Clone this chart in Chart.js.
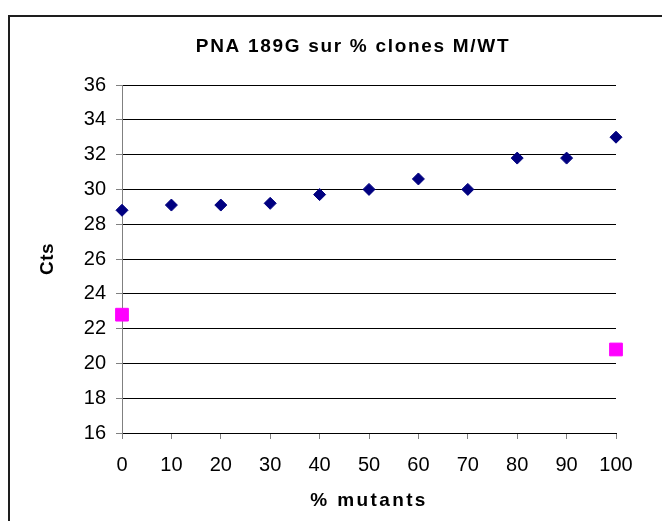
<!DOCTYPE html>
<html>
<head>
<meta charset="utf-8">
<title>PNA 189G sur % clones M/WT</title>
<script src="https://cdn.jsdelivr.net/npm/chart.js@4/dist/chart.umd.min.js"></script>
<style>
  html, body { margin: 0; padding: 0; background: #ffffff; }
  #wrap { width: 662px; height: 521px; position: relative; }
</style>
</head>
<body>
<div id="wrap"><canvas id="chart" width="662" height="521"></canvas></div>
<script>
// % of mutant clones in the M/WT mix
const percentMutants = [0, 10, 20, 30, 40, 50, 60, 70, 80, 90, 100];
// Ct values with the PNA 189G clamp
const ctsPNA = [28.8, 29.1, 29.1, 29.2, 29.7, 30.0, 30.6, 30.0, 31.8, 31.8, 33.0];
// Reference points at 0 % and 100 % mutants
const controlPercent = [0, 100];
const controlCts = [22.8, 20.8];
// Axis ranges and steps
const xRange = [0, 100];
const xStep = 10;
const yRange = [16, 36];
const yStep = 2;

const FONT = "'Liberation Sans', Arial, Helvetica, sans-serif";

const toPoints = (xs, ys) => xs.map((x, i) => ({ x: x, y: ys[i] }));

// Outer frame of the chart object (left and top edges)
const framePlugin = {
  id: 'frame',
  beforeDraw(chart) {
    const ctx = chart.ctx;
    ctx.save();
    ctx.fillStyle = '#ffffff';
    ctx.fillRect(0, 0, chart.width, chart.height);
    ctx.strokeStyle = '#1e1e1e';
    ctx.lineWidth = 2;
    ctx.beginPath();
    ctx.moveTo(9, chart.height);
    ctx.lineTo(9, 16);
    ctx.lineTo(chart.width, 16);
    ctx.stroke();
    ctx.restore();
  }
};

// Wider letter spacing for the bold titles
function withSpacing(obj, fnName, spacing) {
  if (!obj || obj['__spaced_' + fnName]) return;
  const orig = obj[fnName];
  obj[fnName] = function () {
    const ctx = this.ctx;
    const prev = ctx.letterSpacing;
    ctx.letterSpacing = spacing;
    try { return orig.apply(this, arguments); }
    finally { ctx.letterSpacing = prev; }
  };
  obj['__spaced_' + fnName] = true;
}
const spacingPlugin = {
  id: 'titleSpacing',
  afterLayout(chart) {
    withSpacing(chart.titleBlock, 'draw', '1.7px');
    withSpacing(chart.scales.x, 'drawTitle', '2.4px');
    withSpacing(chart.scales.y, 'drawTitle', '0.5px');
  }
};

new Chart(document.getElementById('chart'), {
  type: 'scatter',
  data: {
    datasets: [
      {
        label: 'PNA 189G',
        data: toPoints(percentMutants, ctsPNA),
        pointStyle: 'rectRot',
        pointRadius: 6,
        pointHoverRadius: 6,
        borderWidth: 1,
        backgroundColor: '#000080',
        borderColor: '#000080',
        clip: false
      },
      {
        label: 'Contrôles',
        data: toPoints(controlPercent, controlCts),
        pointStyle: 'rect',
        pointRadius: 9,
        pointHoverRadius: 9,
        borderWidth: 1,
        backgroundColor: '#ff00ff',
        borderColor: '#ff00ff',
        clip: false
      }
    ]
  },
  options: {
    responsive: false,
    animation: false,
    events: [],
    layout: { padding: { left: 44, right: 0, top: 0, bottom: 0 } },
    plugins: {
      legend: { display: false },
      tooltip: { enabled: false },
      title: {
        display: true,
        text: 'PNA 189G sur % clones M/WT',
        color: '#000000',
        font: { family: FONT, size: 19, weight: 'bold', lineHeight: 1.2 },
        padding: { top: 35.4, bottom: 26.8 }
      }
    },
    scales: {
      x: {
        type: 'linear',
        position: 'bottom',
        min: xRange[0],
        max: xRange[1],
        afterFit(scale) { scale.height = 88; },
        ticks: {
          stepSize: xStep,
          color: '#000000',
          padding: 14,
          maxRotation: 0,
          font: { family: FONT, size: 20 }
        },
        grid: {
          drawOnChartArea: false,
          drawTicks: true,
          tickLength: 6,
          tickColor: '#808080'
        },
        border: { display: true, color: '#000000', width: 1 },
        title: {
          display: true,
          text: '% mutants',
          color: '#000000',
          font: { family: FONT, size: 19, weight: 'bold', lineHeight: 1.2 },
          padding: { top: 0, bottom: 8.5 }
        }
      },
      y: {
        type: 'linear',
        position: 'left',
        min: yRange[0],
        max: yRange[1],
        afterFit(scale) { scale.width = 78; },
        ticks: {
          stepSize: yStep,
          color: '#000000',
          padding: 10,
          font: { family: FONT, size: 20 }
        },
        grid: {
          color: '#000000',
          lineWidth: 1,
          drawTicks: true,
          tickLength: 6,
          tickColor: '#808080'
        },
        border: { display: true, color: '#808080', width: 1 },
        title: {
          display: true,
          text: 'Cts',
          color: '#000000',
          font: { family: FONT, size: 19, weight: 'bold', lineHeight: 1.2 },
          padding: { top: -8, bottom: 0 }
        }
      },
      // empty right-hand band that keeps the plot clear of the frame's right side
      yRight: {
        type: 'linear',
        position: 'right',
        display: true,
        afterFit(scale) { scale.width = 46; },
        ticks: { display: false },
        grid: { display: false, drawTicks: false },
        border: { display: false },
        title: { display: false }
      }
    }
  },
  plugins: [framePlugin, spacingPlugin]
});
</script>
</body>
</html>
